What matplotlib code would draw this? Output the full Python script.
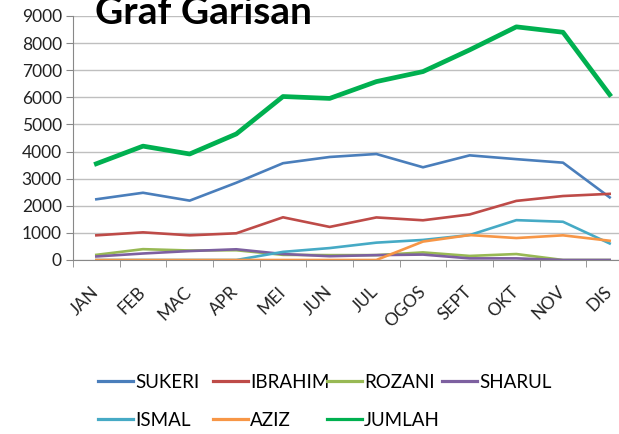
import matplotlib
matplotlib.use("Agg")
import matplotlib.pyplot as plt
import matplotlib.transforms as mtransforms
from matplotlib.lines import Line2D

plt.rcParams['font.family'] = ['Lato', 'DejaVu Sans']

months = ['JAN', 'FEB', 'MAC', 'APR', 'MEI', 'JUN', 'JUL', 'OGOS', 'SEPT', 'OKT', 'NOV', 'DIS']

sukeri = [2240, 2480, 2190, 2850, 3570, 3800, 3910, 3420, 3860, 3720, 3590, 2310]
ibrahim = [910, 1020, 910, 985, 1575, 1220, 1570, 1465, 1680, 2180, 2360, 2440]
rozani = [190, 400, 350, 360, 190, 180, 180, 280, 150, 220, 0, 0]
sharul = [130, 240, 330, 395, 220, 140, 180, 200, 60, 60, 0, 0]
ismal = [0, 0, 0, 0, 300, 440, 640, 740, 920, 1470, 1410, 610]
aziz = [0, 0, 0, 0, 0, 0, 0, 680, 920, 810, 910, 710]
jumlah = [3550, 4200, 3910, 4650, 6030, 5960, 6580, 6950, 7750, 8600, 8400, 6100]

names = ['SUKERI', 'IBRAHIM', 'ROZANI', 'SHARUL', 'ISMAL', 'AZIZ', 'JUMLAH']
series = [sukeri, ibrahim, rozani, sharul, ismal, aziz, jumlah]
colors = ['#4A7EBB', '#BE4B48', '#98B954', '#7D60A0', '#46AAC5', '#F79646', '#00B050']

W, H = 619, 434
fig = plt.figure(figsize=(W / 100, H / 100), dpi=100)
ax = fig.add_axes([73 / W, 1 - 260 / H, (633 - 73) / W, (260 - 16) / H])

x = list(range(len(months)))
for name, vals, c in zip(names, series, colors):
    lw = 3.4 if name == 'JUMLAH' else 1.9
    ax.plot(x, vals, color=c, lw=lw, label=name, solid_joinstyle='round')

ax.set_xlim(-0.5, 11.5)
ax.set_ylim(0, 9000)
ax.set_yticks(range(0, 9001, 1000))
ax.set_xticks(x)
ax.set_xticklabels(months, rotation=45, ha='right', rotation_mode='anchor', fontsize=12.5, color='#222222')
ax.set_xticks([i + 0.5 for i in range(-1, 12)], minor=True)
ax.tick_params(axis='x', which='major', length=0, pad=17)
ax.tick_params(axis='x', which='minor', length=5, color='#888888')
ax.tick_params(axis='y', length=5, color='#888888', labelsize=12.5, labelcolor='#222222', pad=3)
# nudge month labels a little left, as in the original
shift = mtransforms.ScaledTranslation(-0.06, 0, fig.dpi_scale_trans)
for lab in ax.get_xticklabels():
    lab.set_transform(lab.get_transform() + shift)
ax.grid(axis='y', color='#BFBFBF', lw=1)
ax.set_axisbelow(True)
for s in ['top', 'right']:
    ax.spines[s].set_visible(False)
ax.spines['left'].set_color('#888888')
ax.spines['bottom'].set_color('#888888')

fig.text(95 / W, 1 - 24 / H, 'Graf Garisan', fontsize=28, fontweight='bold', va='baseline', ha='left')

# legend laid out in fixed-width columns like the original
proxies = [Line2D([], [], color=c, lw=2.3) for c in colors]
cols = [[0, 4], [1, 5], [2, 6], [3]]
col_x = [98, 213, 327, 442]
for idx, cx in zip(cols, col_x):
    fig.legend([proxies[i] for i in idx], [names[i] for i in idx],
               loc='upper left', bbox_to_anchor=(cx / W, 1 - 374 / H),
               frameon=False, fontsize=13.5, handlelength=1.85, handletextpad=0.12,
               borderaxespad=0, borderpad=0, labelspacing=1.12)

fig.savefig('out.png', dpi=100)
